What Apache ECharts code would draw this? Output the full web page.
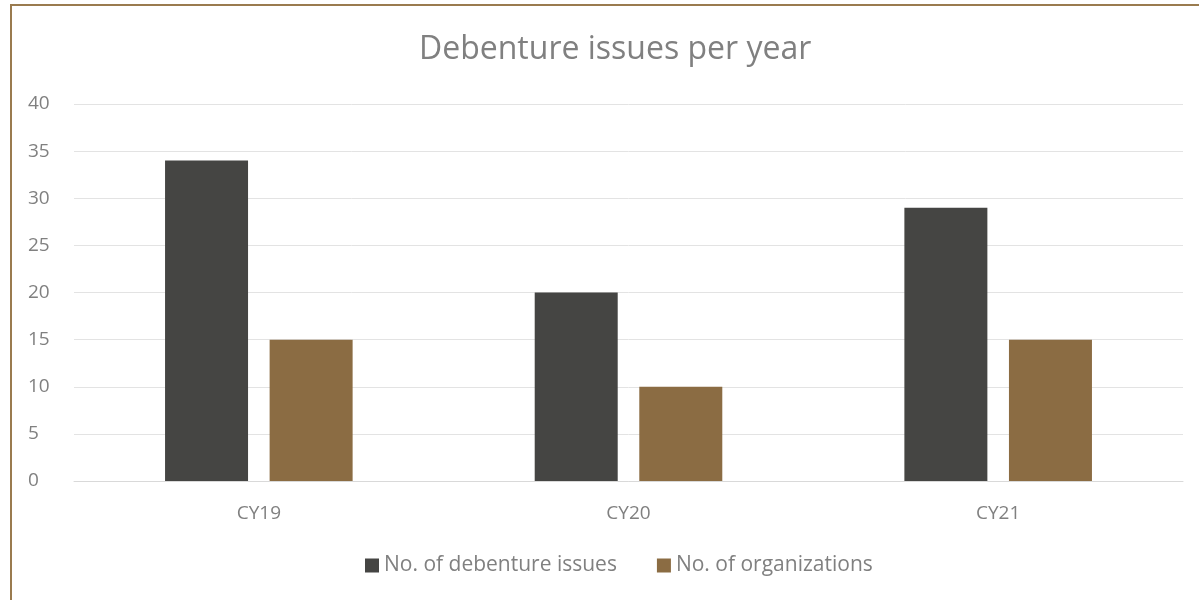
<!DOCTYPE html>
<html>
<head>
<meta charset="utf-8">
<script src="https://cdn.jsdelivr.net/npm/echarts@6/dist/echarts.min.js"></script>
<style>
  html, body { margin: 0; padding: 0; background: #fff; }
  #frame {
    position: absolute; left: 10px; top: 4px; width: 1200px; height: 610px;
    border-left: 2px solid #9a7b4f; border-top: 2px solid #9a7b4f;
  }
  #chart { position: absolute; left: 0; top: 0; width: 1199px; height: 600px; }
</style>
</head>
<body>
<div id="frame"></div>
<div id="chart"></div>
<script>
// 数据
const categories = ['CY19', 'CY20', 'CY21'];
const debentureIssues = [34, 20, 29];
const organizations = [15, 10, 15];
const seriesNames = ['No. of debenture issues', 'No. of organizations'];

const font = '"Open Sans", "Liberation Sans", sans-serif';
const chart = echarts.init(document.getElementById('chart'));

const option = {
  animation: false,
  title: {
    text: 'Debenture issues per year',
    left: 414,
    top: 29,
    textStyle: { fontFamily: font, fontSize: 32, fontWeight: 'normal', color: '#808080' }
  },
  legend: {
    bottom: 19,
    left: 360,
    itemWidth: 14,
    itemHeight: 14,
    itemGap: 40,
    icon: 'rect',
    textStyle: { fontFamily: font, fontSize: 21, color: '#808080' },
    data: seriesNames
  },
  grid: { left: 74, right: 16, top: 104, bottom: 119, containLabel: false },
  xAxis: {
    type: 'category',
    data: categories,
    axisLine: { show: true, lineStyle: { color: '#d9d9d9', width: 1 } },
    axisTick: { show: false },
    axisLabel: { fontFamily: font, fontSize: 19, color: '#808080', margin: 23 }
  },
  yAxis: {
    type: 'value',
    min: 0,
    max: 40,
    interval: 5,
    axisLine: { show: false },
    axisTick: { show: false },
    splitLine: { lineStyle: { color: '#e3e3e3', width: 1 } },
    axisLabel: { fontFamily: font, fontSize: 19, color: '#808080', margin: 46, align: 'left' }
  },
  series: [
    {
      name: seriesNames[0],
      type: 'bar',
      data: debentureIssues,
      barWidth: 83,
      barGap: '26%',
      itemStyle: { color: '#454543' }
    },
    {
      name: seriesNames[1],
      type: 'bar',
      data: organizations,
      barWidth: 83,
      barGap: '26%',
      itemStyle: { color: '#8b6c43' }
    }
  ]
};

chart.setOption(option);
</script>
</body>
</html>
